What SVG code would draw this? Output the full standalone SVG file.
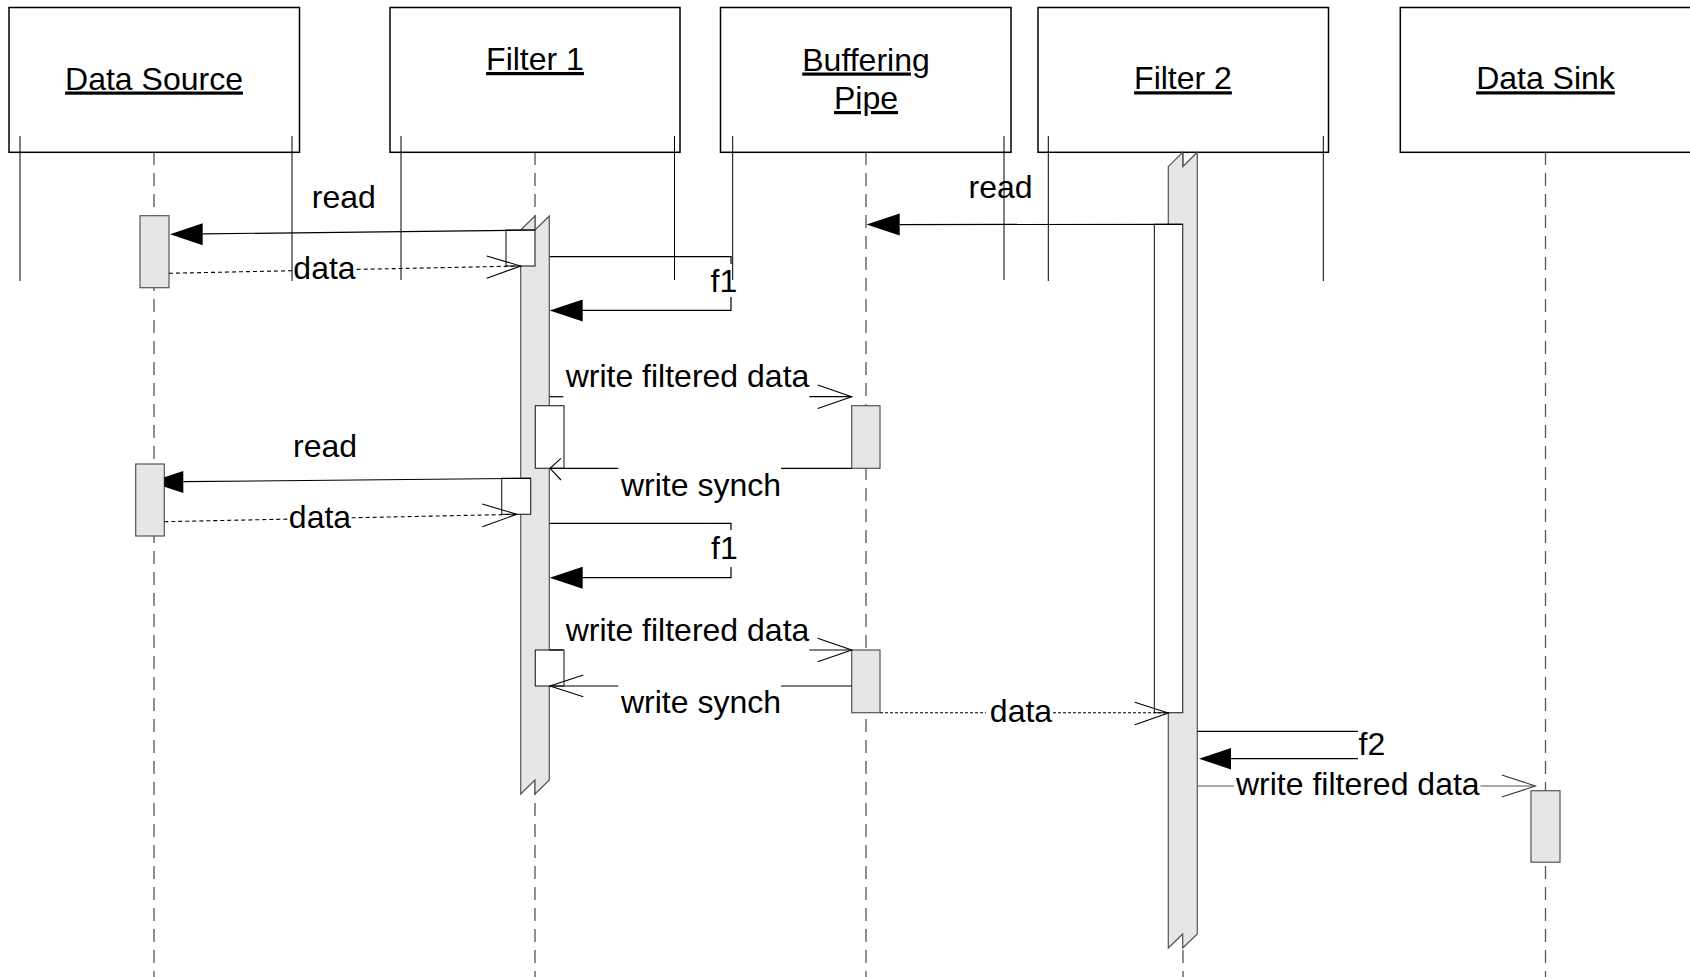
<svg xmlns="http://www.w3.org/2000/svg" width="1690" height="977" viewBox="0 0 1690 977">
<style>
.box{fill:#fff;stroke:#000;stroke-width:1.5}
.side{stroke:#000;stroke-width:1;fill:none}
.life{stroke:#555;stroke-width:1.3;stroke-dasharray:13 8;fill:none}
.t{font-family:"Liberation Sans",Arial,sans-serif;font-size:32px;fill:#000}
.tu{font-family:"Liberation Sans",Arial,sans-serif;font-size:32px;fill:#000;text-decoration:underline;text-anchor:middle}
.act{fill:#e6e6e6;stroke:#555;stroke-width:1.2}
.wact{fill:#fff;stroke:#333;stroke-width:1.2}
.msg{stroke:#000;stroke-width:1.2;fill:none}
.ret{stroke:#000;stroke-width:1.1;fill:none;stroke-dasharray:4 3}
.open{stroke:#000;stroke-width:1.1;fill:none}
.head{fill:#000;stroke:none}
</style>
<rect width="1690" height="977" fill="#fff"/>

<g id="data-source">
<line class="life" x1="154" y1="152" x2="154" y2="977"/>
<rect class="box" x="9" y="7.5" width="290.5" height="144.8"/>
<text class="tu" x="154" y="89.5">Data Source</text>
<line class="side" x1="20" y1="136" x2="20" y2="281"/>
<line class="side" x1="292" y1="136" x2="292" y2="281"/>
</g>

<g id="filter-1">
<line class="life" x1="535" y1="152" x2="535" y2="977"/>
<rect class="box" x="390" y="7.5" width="290" height="144.8"/>
<text class="tu" x="535" y="70">Filter 1</text>
<line class="side" x1="401" y1="136" x2="401" y2="280"/>
<line class="side" x1="674.5" y1="136" x2="674.5" y2="280"/>
</g>

<g id="buffering-pipe">
<line class="life" x1="866" y1="152" x2="866" y2="977"/>
<rect class="box" x="720.5" y="7.5" width="290.5" height="144.8"/>
<text class="tu" x="866" y="70.5">Buffering</text>
<text class="tu" x="866" y="109">Pipe</text>
<line class="side" x1="732.7" y1="136" x2="732.7" y2="280"/>
<line class="side" x1="1004" y1="136" x2="1004" y2="280"/>
</g>

<g id="filter-2">
<line class="life" x1="1183" y1="152" x2="1183" y2="977"/>
<rect class="box" x="1038" y="7.5" width="290.5" height="144.8"/>
<text class="tu" x="1183" y="89.3">Filter 2</text>
<line class="side" x1="1048.3" y1="136" x2="1048.3" y2="281"/>
<line class="side" x1="1323.3" y1="136" x2="1323.3" y2="281"/>
</g>

<g id="data-sink">
<line class="life" x1="1545.5" y1="152" x2="1545.5" y2="977"/>
<rect class="box" x="1400.3" y="7.5" width="295" height="144.8"/>
<text class="tu" x="1545.5" y="89.3">Data Sink</text>
</g>

<g id="activations">
<path class="act" d="M520.7,230 L535,216 L535,230 L549.3,216 L549.3,780 L535,794 L535,780 L520.7,794 Z"/>
<path class="act" d="M1168.3,166.7 L1182.7,152.3 L1182.7,166.7 L1197.3,152.3 L1197.3,934 L1182.7,948 L1182.7,934 L1168.3,948 Z"/>
<rect class="act" x="140" y="215.7" width="29" height="72"/>
<rect class="act" x="135.7" y="464" width="28.6" height="72"/>
<rect class="act" x="851.7" y="405.7" width="28.3" height="62.6"/>
<rect class="act" x="851.7" y="650" width="28.3" height="62.7"/>
<rect class="act" x="1531" y="790.7" width="29" height="71.5"/>
<rect class="wact" x="506" y="230" width="29" height="36"/>
<rect class="wact" x="535.3" y="405.7" width="28.7" height="62.6"/>
<rect class="wact" x="501.7" y="478.3" width="29" height="36"/>
<rect class="wact" x="535.3" y="650" width="28.7" height="36"/>
<rect class="wact" x="1154.4" y="224.3" width="28.3" height="488.4"/>
</g>

<g id="connectors">
<!-- read 1 -->
<line class="msg" x1="535" y1="230" x2="202.7" y2="233.9"/>
<polygon class="head" points="170,234.3 202.7,223.3 202.7,245.3"/>
<text class="t" x="343.8" y="208.3" text-anchor="middle">read</text>
<!-- data 1 -->
<line class="ret" x1="169" y1="273.3" x2="292" y2="270.7"/>
<line class="ret" x1="356.7" y1="269.4" x2="520.7" y2="266"/>
<polyline class="open" points="486.7,256 520.7,266 486.7,278.3"/>
<text class="t" x="324.5" y="279.3" text-anchor="middle">data</text>
<!-- f1 loop 1 -->
<polyline class="msg" points="549.7,256.7 731,256.7 731,264"/>
<polyline class="msg" points="731,297 731,310.4 582.7,310.4"/>
<polygon class="head" points="549.7,310.4 582.7,299.4 582.7,321.4"/>
<text class="t" x="710.5" y="291.7">f1</text>
<!-- write filtered data 1 -->
<line class="msg" x1="549.7" y1="396.7" x2="563.3" y2="396.7"/>
<line class="msg" x1="809.3" y1="396.7" x2="851.7" y2="396.7"/>
<polyline class="open" points="817.7,385 851.7,396.7 817.7,408.4"/>
<text class="t" x="687.5" y="386.7" text-anchor="middle">write filtered data</text>
<!-- write synch 1 -->
<line class="msg" x1="851.7" y1="468.3" x2="781" y2="468.3"/>
<line class="msg" x1="618.3" y1="468.3" x2="550" y2="468.3"/>
<polyline class="open" points="561,458.3 550,468.3 561,480"/>
<text class="t" x="701" y="495.7" text-anchor="middle">write synch</text>
<!-- read 2 -->
<line class="msg" x1="530.7" y1="478.3" x2="183.3" y2="481.7"/>
<polygon class="head" points="164.3,477.3 183.3,471 183.3,493 164.3,486.7"/>
<text class="t" x="325" y="456.7" text-anchor="middle">read</text>
<!-- data 2 -->
<line class="ret" x1="164.3" y1="521.7" x2="288.3" y2="519.1"/>
<line class="ret" x1="351.7" y1="517.8" x2="516.7" y2="514.3"/>
<polyline class="open" points="482.3,504 516.7,514.3 482.3,526.7"/>
<text class="t" x="320" y="528" text-anchor="middle">data</text>
<!-- f1 loop 2 -->
<polyline class="msg" points="549.7,523.3 731,523.3 731,530"/>
<polyline class="msg" points="731,567 731,577.7 582.7,577.7"/>
<polygon class="head" points="549.7,577.7 582.7,566.7 582.7,588.7"/>
<text class="t" x="711" y="559.3">f1</text>
<!-- write filtered data 2 -->
<line class="msg" x1="549.7" y1="650" x2="563.3" y2="650"/>
<line class="msg" x1="809.3" y1="650" x2="851.7" y2="650"/>
<polyline class="open" points="817.7,638.3 851.7,650 817.7,661.7"/>
<text class="t" x="687.5" y="641" text-anchor="middle">write filtered data</text>
<!-- write synch 2 -->
<line class="msg" x1="851.7" y1="686" x2="781" y2="686"/>
<line class="msg" x1="618.3" y1="686" x2="550" y2="686"/>
<polyline class="open" points="583.3,675 550,686 583.3,696.7"/>
<text class="t" x="701" y="712.7" text-anchor="middle">write synch</text>
<!-- read F2 -->
<line class="msg" x1="1182.7" y1="224.3" x2="899.7" y2="224.6"/>
<polygon class="head" points="866.5,224.6 899.7,213.6 899.7,235.6"/>
<text class="t" x="1000.5" y="198.3" text-anchor="middle">read</text>
<!-- data to F2 -->
<line class="ret" x1="880" y1="712.7" x2="986" y2="712.7" style="stroke-dasharray:3 2"/>
<line class="ret" x1="1053" y1="712.7" x2="1168.3" y2="712.7" style="stroke-dasharray:3 2"/>
<polyline class="open" points="1134.8,702.3 1168.3,713 1134.8,724.7"/>
<text class="t" x="1021" y="722" text-anchor="middle">data</text>
<!-- f2 loop -->
<line class="msg" x1="1197.3" y1="731.3" x2="1358" y2="731.3"/>
<line class="msg" x1="1358" y1="758.7" x2="1231" y2="758.7"/>
<polygon class="head" points="1199,758.7 1231,748 1231,769.5"/>
<text class="t" x="1358.5" y="755">f2</text>
<!-- write filtered data 3 -->
<line class="msg" x1="1197.3" y1="786" x2="1234" y2="786" style="stroke:#555"/>
<line class="msg" x1="1480.4" y1="786" x2="1535.3" y2="786" style="stroke:#555"/>
<polyline class="open" points="1501.8,775 1535.3,786 1501.8,797" style="stroke:#333"/>
<text class="t" x="1357.8" y="795.3" text-anchor="middle">write filtered data</text>
</g>
</svg>
